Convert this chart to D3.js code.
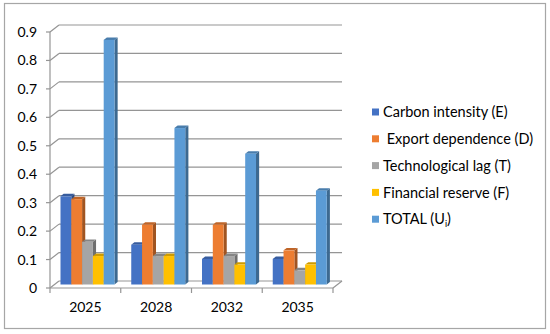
<!DOCTYPE html>
<head>
<meta charset="utf-8">
<script src="https://d3js.org/d3.v7.min.js"></script>
<style>
  body { margin: 0; background: #fff; }
  text { font-family: Lato, "Noto Sans", sans-serif; fill: #000; }
</style>
</head>
<body>
<div id="datavis"></div>

<script type="text/javascript">
    // categories and series
    var categories = ["2025", "2028", "2032", "2035"];
    var seriesNames = ["Carbon intensity (E)", " Export dependence (D)", "Technological lag (T)", "Financial reserve (F)", "TOTAL (U"];
    var seriesColors = ["#4472C4", "#ED7D31", "#A5A5A5", "#FFC000", "#5B9BD5"];

    var carbonIntensity   = [0.31, 0.14, 0.09, 0.09];
    var exportDependence  = [0.30, 0.21, 0.21, 0.12];
    var technologicalLag  = [0.15, 0.10, 0.10, 0.05];
    var financialReserve  = [0.10, 0.10, 0.07, 0.07];
    var total             = [0.86, 0.55, 0.46, 0.33];

    var yTicks = [0, 0.1, 0.2, 0.3, 0.4, 0.5, 0.6, 0.7, 0.8, 0.9];

    var series = [carbonIntensity, exportDependence, technologicalLag, financialReserve, total];

    var width = 550, height = 334;

    var svg = d3.select("#datavis")
                .append("svg")
                .attr("width", width)
                .attr("height", height);

    // chart border
    svg.append("rect")
       .attr("x", 4.5).attr("y", 3.5)
       .attr("width", 541).attr("height", 325)
       .attr("fill", "#fff")
       .attr("stroke", "#a6a6a6")
       .attr("stroke-width", 1.2);

    // front plane scales, depth gives the 3D offset
    var x0 = d3.scaleBand().domain(categories).range([50, 333]);
    var x1 = d3.scaleBand().domain(d3.range(series.length)).range([6, 60]);
    var y = d3.scaleLinear().domain([0, 0.9]).range([288, 32]);
    var depthX = 9, depthY = -7;

    function px(xv, d) { return xv + depthX * d; }
    function py(v, d) { return y(v) + depthY * d; }

    var grid = svg.append("g").attr("stroke", "#959595").attr("stroke-width", 1.2).attr("fill", "none");

    // back wall gridlines + left wall slants
    yTicks.forEach(function(t) {
        grid.append("line")
            .attr("x1", px(50, 1)).attr("y1", py(t, 1))
            .attr("x2", px(333, 1)).attr("y2", py(t, 1));
        grid.append("line")
            .attr("x1", px(50, 0)).attr("y1", py(t, 0))
            .attr("x2", px(50, 1)).attr("y2", py(t, 1));
        grid.append("line")
            .attr("x1", 46).attr("y1", y(t))
            .attr("x2", 50).attr("y2", y(t));
    });

    // left front axis
    grid.append("line")
        .attr("x1", 50).attr("y1", y(0.9))
        .attr("x2", 50).attr("y2", y(0));

    // floor edges
    grid.append("line")
        .attr("x1", 50).attr("y1", y(0))
        .attr("x2", 333).attr("y2", y(0));
    grid.append("line")
        .attr("x1", 333).attr("y1", y(0))
        .attr("x2", px(333, 1)).attr("y2", py(0, 1));

    // x ticks at category boundaries
    categories.concat(["end"]).forEach(function(c, i) {
        var xv = i < categories.length ? x0(c) : 333;
        grid.append("line")
            .attr("x1", xv).attr("y1", y(0))
            .attr("x2", xv).attr("y2", y(0) + 5);
    });

    // y labels
    svg.append("g").selectAll("text")
       .data(yTicks).enter().append("text")
       .attr("x", 37)
       .attr("y", function(d) { return y(d); })
       .attr("dy", "0.36em")
       .attr("text-anchor", "end")
       .style("font-size", "14px")
       .text(function(d) { return d === 0 ? "0" : d3.format(".1f")(d); });

    // x labels
    svg.append("g").selectAll("text")
       .data(categories).enter().append("text")
       .attr("x", function(d) { return x0(d) + x0.bandwidth() / 2; })
       .attr("y", 312)
       .attr("text-anchor", "middle")
       .style("font-size", "14px")
       .text(function(d) { return d; });

    // 3D bars
    var dFront = 0.5, dBack = 0.85;
    var bars = svg.append("g");
    categories.forEach(function(c, ci) {
        series.forEach(function(s, si) {
            var v = s[ci];
            var xl = px(x0(c) + x1(si), dFront);
            var xr = xl + x1.bandwidth();
            var yt = py(v, dFront), yb = py(0, dFront);
            var ox = depthX * (dBack - dFront), oy = depthY * (dBack - dFront);
            var col = d3.color(seriesColors[si]);

            // side face
            bars.append("path")
                .attr("d", "M" + xr + "," + yt + "L" + (xr + ox) + "," + (yt + oy) +
                           "L" + (xr + ox) + "," + (yb + oy) + "L" + xr + "," + yb + "Z")
                .attr("fill", col.darker(1.1));
            // top face
            bars.append("path")
                .attr("d", "M" + xl + "," + yt + "L" + (xl + ox) + "," + (yt + oy) +
                           "L" + (xr + ox) + "," + (yt + oy) + "L" + xr + "," + yt + "Z")
                .attr("fill", col.darker(0.6));
            // front face
            bars.append("rect")
                .attr("x", xl).attr("y", yt)
                .attr("width", x1.bandwidth()).attr("height", yb - yt)
                .attr("fill", col);
        });
    });

    // legend
    var legend = svg.append("g");
    seriesNames.forEach(function(name, i) {
        var ly = 112 + i * 26.8;
        legend.append("rect")
              .attr("x", 372).attr("y", ly - 3.5)
              .attr("width", 7).attr("height", 7)
              .attr("fill", seriesColors[i]);
        var t = legend.append("text")
              .attr("x", 383).attr("y", ly)
              .attr("dy", "0.36em")
              .style("font-size", "14.5px")
              .style("white-space", "pre")
              .attr("xml:space", "preserve")
              .text(name);
        if (i === series.length - 1) {
            t.append("tspan").attr("dy", 3).style("font-size", "9px").text("i");
            t.append("tspan").attr("dy", -3).text(")");
        }
    });
</script>
</body>
